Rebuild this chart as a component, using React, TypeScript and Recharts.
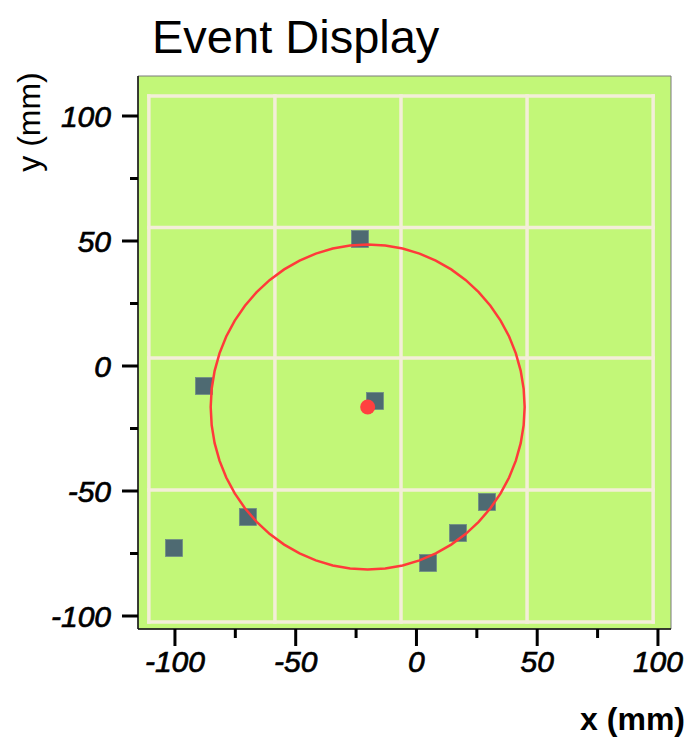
import React from 'react';
import {
  ScatterChart,
  Scatter,
  XAxis,
  YAxis,
  CartesianGrid,
  ReferenceLine,
  ReferenceArea,
} from 'recharts';

// detector hits (mm)
const hitX = [-23.4, -17.2, -88.0, -69.8, -100.4, 4.8, 17.2, 29.2];
const hitY = [50.8, -14.0, -8.0, -60.4, -72.8, -78.8, -66.8, -54.4];

// fitted track circle
const fitCenter = { x: -20.2, y: -16.4 };
const fitRadius = 65;
const fitSegments = 56;

// detector cell boundaries (mm)
const cellX = [-110.8, -58.6, -6.4, 45.8, 98.0];
const cellY = [108.0, 55.4, 3.2, -49.6, -102.4];

const axisTicks = [-100, -75, -50, -25, 0, 25, 50, 75, 100];
const xDomain = [-115.3, 105.4];
const yDomain = [-105.2, 116.0];

const hits = hitX.map((x, i) => ({ x, y: hitY[i] }));
const center = [fitCenter];
const ring = Array.from({ length: fitSegments + 1 }, (_, i) => {
  const a = (i / fitSegments) * Math.PI * 2;
  return { x: fitCenter.x + fitRadius * Math.cos(a), y: fitCenter.y + fitRadius * Math.sin(a) };
});

const FONT = '"Liberation Sans", Arial, Helvetica, sans-serif';

const XTick = (props: any) => {
  const { x, y, payload } = props;
  const major = payload.value % 50 === 0;
  return (
    <g>
      <line x1={x} y1={y} x2={x} y2={y + (major ? 17 : 9)} stroke="#000" strokeWidth={3} />
      {major && (
        <text
          x={x}
          y={y + 43}
          textAnchor="middle"
          fontFamily={FONT}
          fontStyle="italic"
          fontSize={30}
          fill="#000"
          stroke="#000"
          strokeWidth={0.7}
        >
          {payload.value}
        </text>
      )}
    </g>
  );
};

const YTick = (props: any) => {
  const { x, y, payload } = props;
  const major = payload.value % 50 === 0;
  return (
    <g>
      <line x1={x} y1={y} x2={x - (major ? 16 : 8)} y2={y} stroke="#000" strokeWidth={3} />
      {major && (
        <text
          x={x - 27}
          y={y + 11}
          textAnchor="end"
          fontFamily={FONT}
          fontStyle="italic"
          fontSize={30}
          fill="#000"
          stroke="#000"
          strokeWidth={0.7}
        >
          {payload.value}
        </text>
      )}
    </g>
  );
};

const HitSquare = (props: any) => {
  const { cx, cy } = props;
  return <rect x={cx - 8.5} y={cy - 8.5} width={17} height={17} fill="#4e6a72" stroke="#6f8d86" strokeWidth={0.8} />;
};

const CenterDot = (props: any) => {
  const { cx, cy } = props;
  return <circle cx={cx} cy={cy} r={7.5} fill="#ff4040" />;
};

const NoMark = () => <g />;

export default function App() {
  return (
    <div style={{ position: 'absolute', left: 0, top: 0, width: 695, height: 739, background: '#fff' }}>
      <ScatterChart width={695} height={739} margin={{ top: 76, right: 24, bottom: 50, left: 38 }}>
        <CartesianGrid horizontal={false} vertical={false} fill="#c2f778" />
        <XAxis
          type="number"
          dataKey="x"
          domain={xDomain}
          allowDataOverflow
          ticks={axisTicks}
          interval={0}
          height={60}
          tickSize={0}
          tickMargin={0}
          tickLine={false}
          axisLine={{ stroke: '#111', strokeWidth: 1.5 }}
          tick={<XTick />}
        />
        <YAxis
          type="number"
          dataKey="y"
          domain={yDomain}
          allowDataOverflow
          ticks={axisTicks}
          interval={0}
          width={100}
          tickSize={0}
          tickMargin={0}
          tickLine={false}
          axisLine={{ stroke: '#111', strokeWidth: 1.5 }}
          tick={<YTick />}
        />
        <ReferenceArea
          x1={xDomain[0]}
          x2={xDomain[1]}
          y1={yDomain[0]}
          y2={yDomain[1]}
          fill="none"
          stroke="#7a7a7a"
          strokeWidth={1}
        />
        {cellX.map((gx) => (
          <ReferenceLine
            key={`vx${gx}`}
            segment={[
              { x: gx, y: cellY[cellY.length - 1] },
              { x: gx, y: cellY[0] },
            ]}
            stroke="#f3eed8"
            strokeWidth={3.5}
            strokeLinecap="square"
          />
        ))}
        {cellY.map((gy) => (
          <ReferenceLine
            key={`hy${gy}`}
            segment={[
              { x: cellX[0], y: gy },
              { x: cellX[cellX.length - 1], y: gy },
            ]}
            stroke="#f3eed8"
            strokeWidth={3.5}
            strokeLinecap="square"
          />
        ))}
        <Scatter data={hits} shape={<HitSquare />} isAnimationActive={false} />
        <Scatter
          data={ring}
          line={{ stroke: '#ff3a3a', strokeWidth: 2.5 }}
          lineType="joint"
          shape={<NoMark />}
          isAnimationActive={false}
        />
        <Scatter data={center} shape={<CenterDot />} isAnimationActive={false} />
      </ScatterChart>
      <svg width={695} height={739} style={{ position: 'absolute', left: 0, top: 0, pointerEvents: 'none' }}>
        <text x={152} y={53} fontFamily={FONT} fontSize={47} fill="#000">
          Event Display
        </text>
        <text
          x={40}
          y={122}
          transform="rotate(-90, 40, 122)"
          textAnchor="middle"
          fontFamily={FONT}
          fontSize={32}
          fill="#000"
        >
          y (mm)
        </text>
        <text x={685} y={730} textAnchor="end" fontFamily={FONT} fontWeight="bold" fontSize={32} fill="#000">
          x (mm)
        </text>
      </svg>
    </div>
  );
}
